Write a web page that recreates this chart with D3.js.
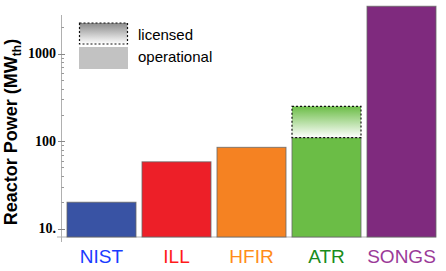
<!DOCTYPE html>
<html>
<head>
<meta charset="utf-8">
<script src="https://cdn.jsdelivr.net/npm/d3@7"></script>
<style>
  body { margin: 0; background: #fff; }
  svg { display: block; }
</style>
</head>
<body>
<div id="chart"></div>
<script>
// reactor thermal powers
var reactors    = ["NIST", "ILL", "HFIR", "ATR", "SONGS"];
var operational = [20, 58, 85, 110, 3500];
var licensed    = [20, 58, 85, 250, 3500];
var barColors   = ["#3953a4", "#ed1f28", "#f58222", "#6bbd46", "#7f2a7e"];
var labelColors = ["#1a3cff", "#ff1a1a", "#ff8c1a", "#1a8c1a", "#9b3a98"];
var majorTicks  = [10, 100, 1000];
var minorTicks  = [20, 30, 40, 50, 60, 70, 80, 90, 200, 300, 400, 500, 600, 700, 800, 900, 2000];
var legendItems = ["licensed", "operational"];

var W = 446, H = 271;

var svg = d3.select("#chart").append("svg")
    .attr("width", W)
    .attr("height", H);

var x = d3.scaleBand()
    .domain(reactors)
    .range([64, 439])
    .paddingInner(0.08)
    .paddingOuter(0.04);

var y = d3.scaleLog()
    .domain([8, 2780])
    .range([237, 15]);

var defs = svg.append("defs");

function fade(id, c) {
  var g = defs.append("linearGradient")
      .attr("id", id)
      .attr("x1", 0).attr("y1", 0).attr("x2", 0).attr("y2", 1);
  g.append("stop").attr("offset", "0%").attr("stop-color", c);
  g.append("stop").attr("offset", "100%").attr("stop-color", "#fff");
}
reactors.forEach(function(r, i) { fade("lic" + i, barColors[i]); });
fade("licLegend", "#8a8a8a");

// axes
var axisColor = "#b0b0b0";
svg.append("line")
    .attr("x1", 57).attr("x2", 436)
    .attr("y1", y(8)).attr("y2", y(8))
    .attr("stroke", axisColor);
svg.append("line")
    .attr("x1", 61.5).attr("x2", 61.5)
    .attr("y1", 15).attr("y2", 242)
    .attr("stroke", axisColor);

svg.append("g").selectAll("line")
    .data(minorTicks)
    .enter().append("line")
      .attr("x1", 61.5).attr("x2", 64)
      .attr("y1", function(d) { return Math.round(y(d)) + 0.5; })
      .attr("y2", function(d) { return Math.round(y(d)) + 0.5; })
      .attr("stroke", "#999");

svg.append("g").selectAll("line")
    .data(majorTicks)
    .enter().append("line")
      .attr("x1", 58).attr("x2", 65)
      .attr("y1", function(d) { return Math.round(y(d)) + 0.5; })
      .attr("y2", function(d) { return Math.round(y(d)) + 0.5; })
      .attr("stroke", "#888");

svg.append("g").selectAll("text")
    .data(majorTicks)
    .enter().append("text")
      .attr("x", 56)
      .attr("y", function(d) { return y(d) + 4.5; })
      .attr("text-anchor", "end")
      .style("font", "bold 14px 'Liberation Serif', 'DejaVu Serif', serif")
      .text(function(d) { return d === 10 ? "10." : d; });

// bars
var data = reactors.map(function(r, i) {
  return { name: r, op: operational[i], lic: licensed[i], i: i };
});

svg.append("g").selectAll("rect")
    .data(data)
    .enter().append("rect")
      .attr("x", function(d) { return x(d.name); })
      .attr("width", x.bandwidth())
      .attr("y", function(d) { return y(d.op); })
      .attr("height", function(d) { return y(8) - y(d.op); })
      .attr("fill", function(d) { return barColors[d.i]; })
      .attr("stroke", "#666")
      .attr("stroke-opacity", 0.8)
      .attr("stroke-width", 1);

svg.append("g").selectAll("rect")
    .data(data.filter(function(d) { return d.lic > d.op; }))
    .enter().append("rect")
      .attr("x", function(d) { return x(d.name); })
      .attr("width", x.bandwidth())
      .attr("y", function(d) { return y(d.lic); })
      .attr("height", function(d) { return y(d.op) - y(d.lic); })
      .attr("fill", function(d) { return "url(#lic" + d.i + ")"; })
      .attr("stroke", "#111")
      .attr("stroke-width", 1.2)
      .attr("stroke-dasharray", "2,2");

// category labels
svg.append("g").selectAll("text")
    .data(reactors)
    .enter().append("text")
      .attr("x", function(d) { return x(d) + x.bandwidth() / 2; })
      .attr("y", 263)
      .attr("text-anchor", "middle")
      .attr("fill", function(d, i) { return labelColors[i]; })
      .style("font", "19px 'Liberation Sans', Arial, sans-serif")
      .text(function(d) { return d; });

// legend
var lg = svg.append("g");
lg.append("rect")
    .attr("x", 79.5).attr("y", 23)
    .attr("width", 48).attr("height", 21)
    .attr("fill", "url(#licLegend)")
    .attr("stroke", "#111")
    .attr("stroke-width", 1.2)
    .attr("stroke-dasharray", "2,2");
lg.append("rect")
    .attr("x", 79).attr("y", 47)
    .attr("width", 49).attr("height", 22)
    .attr("fill", "#c2c2c2");
lg.selectAll("text")
    .data(legendItems)
    .enter().append("text")
      .attr("x", 138)
      .attr("y", function(d, i) { return 40 + i * 22; })
      .style("font", "15px 'Liberation Sans', Arial, sans-serif")
      .text(function(d) { return d; });

// y axis title
var yt = svg.append("text")
    .attr("transform", "translate(17,132) rotate(-90)")
    .attr("text-anchor", "middle")
    .style("font", "bold 18px 'Liberation Sans', Arial, sans-serif");
yt.append("tspan").text("Reactor Power (MW");
yt.append("tspan").attr("font-size", "12px").attr("dy", 4).text("th");
yt.append("tspan").attr("dy", -4).text(")");
</script>
</body>
</html>
